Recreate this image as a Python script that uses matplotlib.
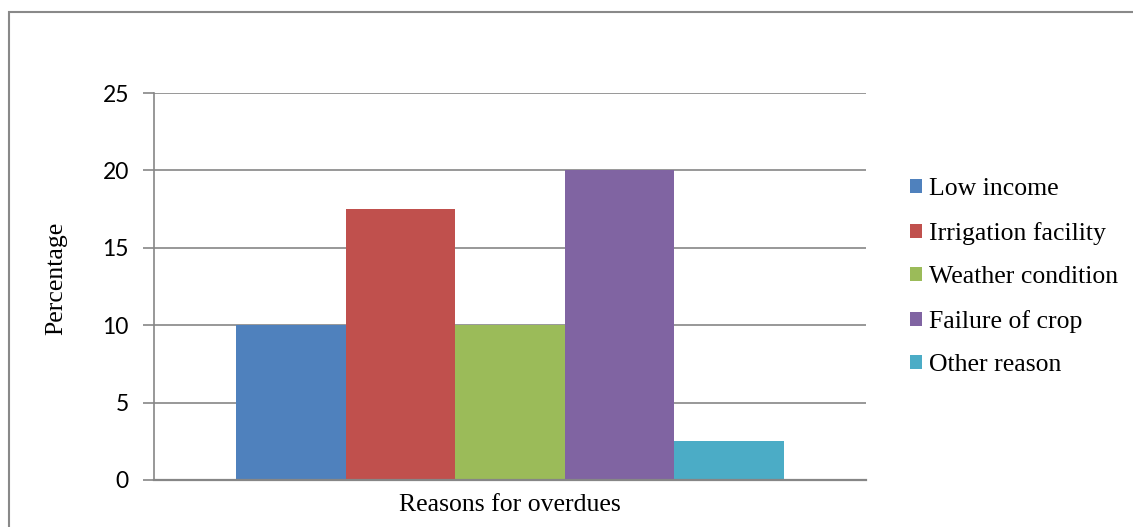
import matplotlib
matplotlib.use("Agg")
import matplotlib.pyplot as plt
from matplotlib.patches import Rectangle, Patch

# Reasons for loan overdues (percentage of respondents)
reasons = ["Low income", "Irrigation facility", "Weather condition",
           "Failure of crop", "Other reason"]
percentages = [10, 17.5, 10, 20, 2.5]
colors = ["#4f81bd", "#c0504d", "#9bbb59", "#8064a2", "#4bacc6"]
yticks = [0, 5, 10, 15, 20, 25]
category = "Reasons for overdues"

grid_color = "#868686"

fig = plt.figure(figsize=(11.33, 5.27), dpi=100)
ax = fig.add_axes([0.1359, 0.0892, 0.6284, 0.7343])

# one cluster of five bars centred on the single category
offsets = [i - (len(reasons) - 1) / 2 for i in range(len(reasons))]
for off, val, col, name in zip(offsets, percentages, colors, reasons):
    ax.bar(off, val, width=1.0, color=col, label=name, zorder=3)

ax.set_xlim(-3.248, 3.248)
ax.set_ylim(0, 25)
ax.set_yticks(yticks)
ax.set_xticks([])
ax.yaxis.grid(True, color=grid_color, linewidth=1.2, zorder=0)

for side in ["top", "right"]:
    ax.spines[side].set_visible(False)
ax.spines["left"].set_color(grid_color)
ax.spines["left"].set_linewidth(1.2)
ax.spines["bottom"].set_color(grid_color)
ax.spines["bottom"].set_linewidth(1.6)
ax.spines["bottom"].set_zorder(4)

ax.tick_params(axis="y", length=8, width=1.2, color=grid_color, pad=10,
               labelsize=16.5)
for lbl in ax.get_yticklabels():
    lbl.set_family("Lato")

ax.set_xlabel(category, family="Liberation Serif", fontsize=18.5, labelpad=10)
ax.set_ylabel("Percentage", family="Liberation Serif", fontsize=18.5)
ax.yaxis.set_label_coords(-0.122, 0.52)

handles = [Patch(facecolor=c, label=n) for c, n in zip(colors, reasons)]
ax.legend(handles=handles, loc="upper left", bbox_to_anchor=(1.062, 0.78),
          frameon=False, prop={"family": "Liberation Serif", "size": 18.5},
          handlelength=0.47, handleheight=0.47, handletextpad=0.27,
          labelspacing=0.84, borderaxespad=0, borderpad=0)

# chart area border
fig.patches.append(Rectangle((9 / 1133, -0.01), 1.02, 1 - 12 / 527 + 0.01,
                             transform=fig.transFigure, fill=False,
                             edgecolor="#898989", linewidth=1.5))

fig.savefig("out.png", dpi=100)
